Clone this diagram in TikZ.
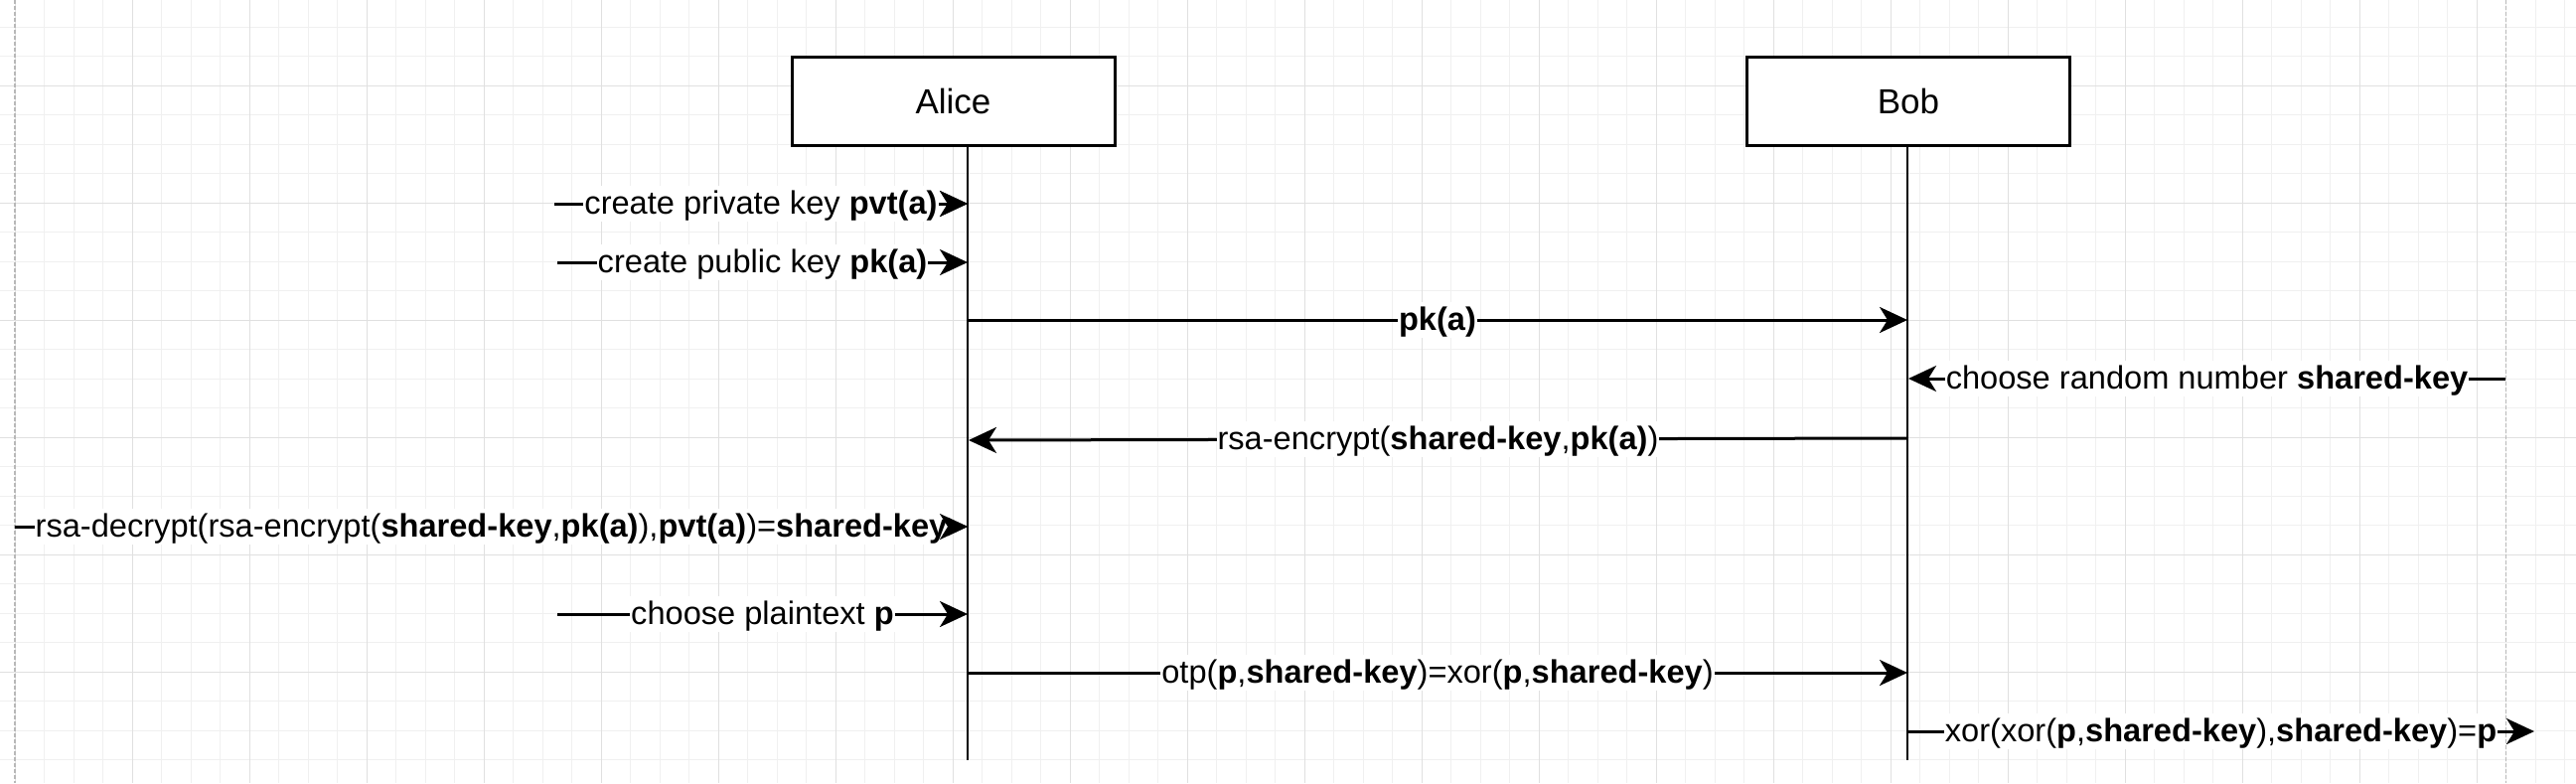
\documentclass[tikz,border=0pt]{standalone}
\usepackage{fontspec}
\setmainfont{Liberation Sans}
\usetikzlibrary{arrows.meta}
\tikzset{
  gridminor/.style={draw=black!6, line width=1pt},
  gridmajor/.style={draw=black!12, line width=1pt},
  pageedge/.style={draw=black!28, line width=1.2pt, dash pattern=on 4pt off 2pt},
  actor/.style={draw=black, line width=3pt, fill=white, minimum width=325pt, minimum height=89pt, inner sep=0pt, font=\fontsize{35}{42}\selectfont},
  life/.style={draw=black, line width=2.7pt},
  msg/.style={draw=black, line width=3pt, -{Stealth[length=28pt,width=26pt,inset=8pt]}},
  lbl/.style={fill=white, inner xsep=1pt, inner ysep=2pt, text height=26pt, text depth=6pt, font=\fontsize{32.6}{39}\selectfont},
}
\begin{document}
\begin{tikzpicture}[x=1pt,y=-1pt]
\useasboundingbox (0,0) rectangle (2593,788);
\fill[white] (0,0) rectangle (2593,788);
% grid
\foreach \k in {0,...,87} { \draw[gridminor] ({15+\k*29.5},0) -- ({15+\k*29.5},788); }
\foreach \k in {0,...,25} { \draw[gridminor] (0,{27+\k*29.5}) -- (2593,{27+\k*29.5}); }
\foreach \k in {0,...,21} { \draw[gridmajor] ({15+\k*118},0) -- ({15+\k*118},788); }
\foreach \k in {0,...,5} { \draw[gridmajor] (0,{86+\k*118}) -- (2593,{86+\k*118}); }
\draw[pageedge] (15,0) -- (15,788);
\draw[pageedge] (2522.5,0) -- (2522.5,788);

% actors
\node[actor] (alice) at (959.5,101.5) {Alice};
\node[actor] (bob) at (1921,101.5) {Bob};
\coordinate (alBot) at (974,765);
\coordinate (bobBot) at (1920,765);
\draw[life] (alice.south -| alBot) -- (alBot);
\draw[life] (bob.south -| bobBot) -- (bobBot);

% message end points
\coordinate (m1s) at (558,205);  \coordinate (m1e) at (974,205);
\coordinate (m2s) at (561,264);  \coordinate (m2e) at (974,264);
\coordinate (m3s) at (974,322);  \coordinate (m3e) at (1920,322);
\coordinate (m4s) at (2522,381); \coordinate (m4e) at (1921,381);
\coordinate (m5s) at (1920,441); \coordinate (m5e) at (975,443);
\coordinate (m6s) at (15,530);   \coordinate (m6e) at (974,530);
\coordinate (m7s) at (561,618);  \coordinate (m7e) at (974,618);
\coordinate (m8s) at (974,677);  \coordinate (m8e) at (1920,677);
\coordinate (m9s) at (1920,736); \coordinate (m9e) at (2551,736);

\draw[msg] (m1s) -- (m1e) node[lbl, midway] (l1) {create private key \textbf{pvt(a)}};
\draw[msg] (m2s) -- (m2e) node[lbl, midway] (l2) {create public key \textbf{pk(a)}};
\draw[msg] (m3s) -- (m3e) node[lbl, midway] (l3) {\textbf{pk(a)}};
\draw[msg] (m4s) -- (m4e) node[lbl, midway] (l4) {choose random number \textbf{shared-key}};
\draw[msg] (m5s) -- (m5e) node[lbl, midway] (l5) {rsa-encrypt(\textbf{shared-key},\textbf{pk(a)})};
\draw[msg] (m6s) -- (m6e) node[lbl, midway] (l6) {rsa-decrypt(rsa-encrypt(\textbf{shared-key},\textbf{pk(a)}),\textbf{pvt(a)})=\textbf{shared-key}};
\draw[msg] (m7s) -- (m7e) node[lbl, midway] (l7) {choose plaintext \textbf{p}};
\draw[msg] (m8s) -- (m8e) node[lbl, midway] (l8) {otp(\textbf{p},\textbf{shared-key})=xor(\textbf{p},\textbf{shared-key})};
\draw[msg] (m9s) -- (m9e) node[lbl, midway] (l9) {xor(xor(\textbf{p},\textbf{shared-key}),\textbf{shared-key})=\textbf{p}};
% arrow tips that lie over the end of their labels
\draw[msg] (l1.east |- m1e) -- (m1e);
\draw[msg] (l6.east |- m6e) -- (m6e);
\end{tikzpicture}
\end{document}
